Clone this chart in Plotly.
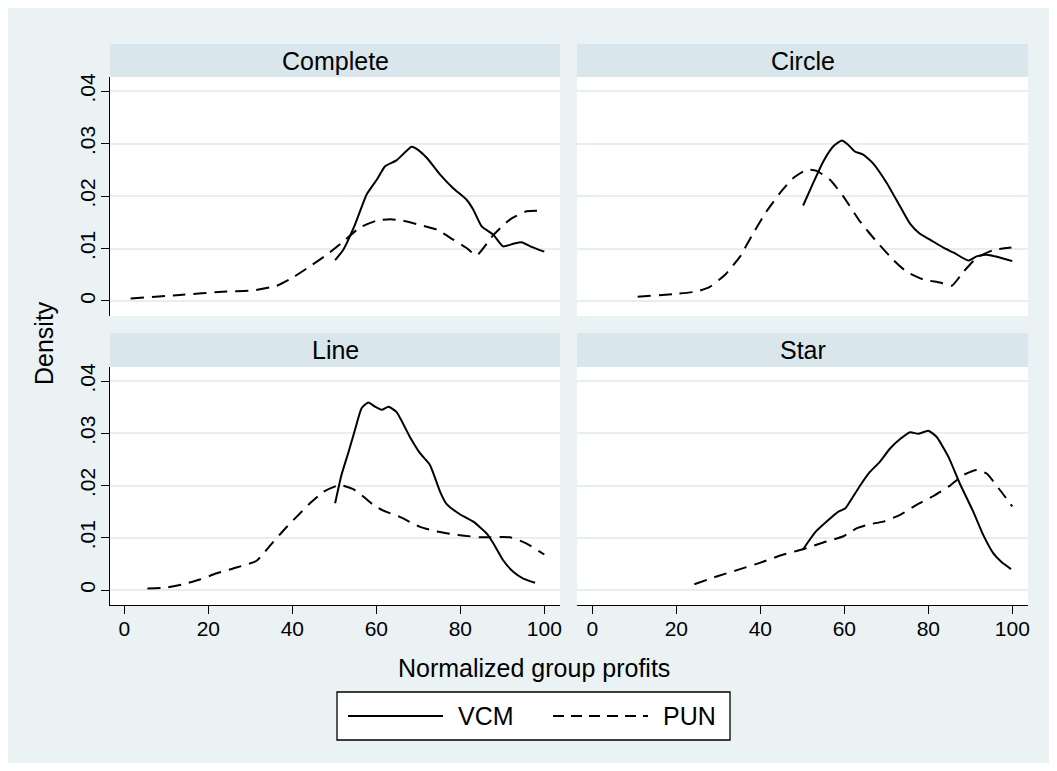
import plotly.graph_objects as go

# ---------------- data ----------------
panel_titles = ["Complete", "Circle", "Line", "Star"]
series_names = ["VCM", "PUN"]
x_tick_vals = [0, 20, 40, 60, 80, 100]
x_tick_text = ["0", "20", "40", "60", "80", "100"]
y_tick_vals = [0, 0.01, 0.02, 0.03, 0.04]
y_tick_text = ["0", ".01", ".02", ".03", ".04"]

complete_vcm_x = [50.2, 52.1, 54.9, 57.7, 60.1, 62.1, 64.8, 68.4, 69.6, 72.0, 75.2, 78.3, 81.5, 83.1, 85.1, 87.9, 90.2, 92.6, 94.6, 97.0, 98.9, 100]
complete_vcm_y = [0.0078, 0.0097, 0.0145, 0.0203, 0.0231, 0.0257, 0.0268, 0.0294, 0.0290, 0.0273, 0.0241, 0.0215, 0.0193, 0.0174, 0.0142, 0.0126, 0.0104, 0.0109, 0.0112, 0.0103, 0.0097, 0.0094]
complete_pun_x = [1.5, 12.5, 24.4, 30.7, 36.3, 40.2, 44.2, 48.2, 52.1, 56.1, 60.1, 63.3, 66.4, 70.4, 74.4, 78.3, 81.5, 83.9, 87.9, 91.8, 95.8, 98.9, 100]
complete_pun_y = [0.00045, 0.0011, 0.0018, 0.0020, 0.0029, 0.0045, 0.0066, 0.0088, 0.0113, 0.0140, 0.0153, 0.0156, 0.0153, 0.0145, 0.0136, 0.0117, 0.0101, 0.0087, 0.0126, 0.0155, 0.0171, 0.0172, 0.0169]

circle_vcm_x = [50.2, 52.6, 55.0, 57.4, 59.4, 60.9, 62.5, 64.5, 66.9, 70.1, 73.3, 75.6, 78.0, 80.4, 83.5, 86.3, 89.5, 91.5, 93.8, 97.0, 100]
circle_vcm_y = [0.0182, 0.0225, 0.0266, 0.0295, 0.0306, 0.0298, 0.0285, 0.0279, 0.0262, 0.0225, 0.0180, 0.0148, 0.0128, 0.0117, 0.0102, 0.0091, 0.0077, 0.0085, 0.0088, 0.0083, 0.0076]
circle_pun_x = [10.8, 19.3, 24.8, 28.0, 31.6, 35.2, 38.3, 41.5, 44.7, 47.8, 51.0, 53.4, 56.6, 59.8, 63.7, 67.7, 71.7, 74.8, 78.8, 82.8, 85.6, 88.3, 91.5, 95.5, 99.8]
circle_pun_y = [0.0008, 0.0013, 0.0018, 0.0027, 0.0050, 0.0085, 0.0129, 0.0171, 0.0206, 0.0234, 0.0250, 0.0248, 0.0231, 0.0199, 0.0152, 0.0113, 0.0078, 0.0056, 0.0041, 0.0035, 0.0029, 0.0055, 0.0082, 0.0097, 0.0102]

line_vcm_x = [50.2, 51.7, 53.3, 54.9, 56.5, 58.1, 59.7, 61.3, 62.9, 64.8, 68.0, 70.4, 72.8, 75.2, 76.7, 79.9, 83.1, 86.3, 87.9, 90.2, 92.6, 95.0, 97.8]
line_vcm_y = [0.0166, 0.0220, 0.0262, 0.0306, 0.0348, 0.0359, 0.0351, 0.0345, 0.0351, 0.0341, 0.0293, 0.0262, 0.0239, 0.0188, 0.0165, 0.0145, 0.0131, 0.0108, 0.0089, 0.0057, 0.0035, 0.0022, 0.0014]
line_pun_x = [5.5, 9.3, 14.0, 18.0, 22.0, 26.7, 31.5, 34.7, 37.9, 41.0, 44.2, 47.4, 51.3, 54.5, 56.9, 59.3, 61.7, 65.6, 70.4, 74.4, 79.9, 84.7, 91.8, 95.8, 99.0, 100]
line_pun_y = [0.0003, 0.0004, 0.0011, 0.0020, 0.0032, 0.0043, 0.0056, 0.0085, 0.0114, 0.0140, 0.0166, 0.0188, 0.0201, 0.0193, 0.0179, 0.0163, 0.0152, 0.0140, 0.0121, 0.0112, 0.0105, 0.0101, 0.0101, 0.0089, 0.0073, 0.0068]

star_vcm_x = [50.2, 53.0, 55.8, 58.6, 60.2, 62.1, 64.1, 66.1, 68.5, 70.9, 73.3, 75.7, 77.6, 80.0, 82.0, 84.8, 87.5, 90.7, 93.1, 95.5, 97.5, 99.7]
star_vcm_y = [0.0078, 0.0110, 0.0131, 0.0150, 0.0156, 0.0179, 0.0204, 0.0226, 0.0246, 0.0271, 0.0289, 0.0302, 0.0299, 0.0305, 0.0293, 0.0255, 0.0204, 0.0150, 0.0105, 0.0070, 0.0053, 0.0040]
star_pun_x = [24.3, 29.6, 35.2, 39.9, 45.5, 50.2, 55.0, 59.8, 62.9, 66.1, 69.3, 73.3, 77.2, 81.2, 85.2, 88.3, 91.5, 93.9, 97.1, 100]
star_pun_y = [0.0011, 0.0026, 0.0040, 0.0052, 0.0068, 0.0078, 0.0091, 0.0103, 0.0118, 0.0126, 0.0131, 0.0144, 0.0163, 0.0180, 0.0200, 0.0220, 0.0230, 0.0223, 0.0191, 0.0160]

# ---------------- styling / layout helpers ----------------
OFF = 8  # page body margin: screen pixel = figure pixel + 8
W, H = 1057 - OFF, 771 - 2 * OFF
FONT = "Liberation Sans, Arial, Helvetica, sans-serif"
BG = "#EAF2F3"
STRIP = "#D9E6EB"
GRID = "#E6EEF1"
SOLID = dict(color="black", width=2, shape="spline", smoothing=0.5)
DASHED = dict(color="black", width=2, dash="13px,8px", shape="spline", smoothing=0.5)
LEG_SOLID = dict(color="black", width=2)
LEG_DASHED = dict(color="black", width=2, dash="11px,7px")


def px_x(p):
    return (p - OFF) / W


def px_y(p):
    return 1 - (p - OFF) / H


panels = [
    dict(name=panel_titles[0], xb=(110, 560), yb=(77, 316), strip_top=44, left=True, bottom=False),
    dict(name=panel_titles[1], xb=(577, 1028), yb=(77, 316), strip_top=44, left=False, bottom=False),
    dict(name=panel_titles[2], xb=(110, 560), yb=(367, 605), strip_top=333, left=True, bottom=True),
    dict(name=panel_titles[3], xb=(577, 1028), yb=(367, 605), strip_top=333, left=False, bottom=True),
]
data = [
    (complete_vcm_x, complete_vcm_y, complete_pun_x, complete_pun_y),
    (circle_vcm_x, circle_vcm_y, circle_pun_x, circle_pun_y),
    (line_vcm_x, line_vcm_y, line_pun_x, line_pun_y),
    (star_vcm_x, star_vcm_y, star_pun_x, star_pun_y),
]

fig = go.Figure()
layout = dict(
    width=W, height=H,
    margin=dict(l=0, r=0, t=0, b=0, autoexpand=False),
    paper_bgcolor=BG,
    plot_bgcolor="white",
    showlegend=False,
    font=dict(family=FONT, color="black", size=21),
)
shapes = []
annotations = []

for i, (pn, (vx, vy, px_, py_)) in enumerate(zip(panels, data)):
    k = "" if i == 0 else str(i + 1)
    xa, ya = "x" + k, "y" + k
    fig.add_trace(go.Scatter(x=vx, y=vy, mode="lines", line=SOLID, name=series_names[0],
                             xaxis=xa, yaxis=ya, hoverinfo="skip"))
    fig.add_trace(go.Scatter(x=px_, y=py_, mode="lines", line=DASHED, name=series_names[1],
                             xaxis=xa, yaxis=ya, hoverinfo="skip"))
    x0, x1 = pn["xb"]
    t, b = pn["yb"]
    zero_off = 14.3 if pn["left"] else 15.3
    xr = [-zero_off / 4.2, (x1 - x0 - zero_off) / 4.2]
    layout["xaxis" + k] = dict(
        domain=[px_x(x0), px_x(x1)], range=xr, anchor=ya,
        tickvals=x_tick_vals, ticktext=x_tick_text,
        showticklabels=pn["bottom"], ticks="outside" if pn["bottom"] else "",
        ticklen=8, tickwidth=1.3, tickcolor="black",
        showline=pn["bottom"], linecolor="black", linewidth=1.3,
        showgrid=False, zeroline=False, ticklabelstandoff=-3,
        tickfont=dict(size=21, family=FONT, color="black"),
    )
    layout["yaxis" + k] = dict(
        domain=[px_y(b), px_y(t)], range=[-0.00287, 0.0427], anchor=xa,
        tickvals=y_tick_vals, ticktext=y_tick_text, tickangle=-90,
        showticklabels=pn["left"], ticks="outside" if pn["left"] else "",
        ticklen=8, tickwidth=1.3, tickcolor="black",
        showline=pn["left"], linecolor="black", linewidth=1.3,
        showgrid=True, gridcolor=GRID, gridwidth=1.5, zeroline=False,
        ticklabelstandoff=-3,
        tickfont=dict(size=21, family=FONT, color="black"),
    )
    shapes.append(dict(type="rect", xref="paper", yref="paper",
                       x0=px_x(x0), x1=px_x(x1), y0=px_y(t), y1=px_y(pn["strip_top"]),
                       fillcolor=STRIP, line=dict(width=0), layer="below"))
    annotations.append(dict(text=pn["name"], xref="paper", yref="paper",
                            x=px_x((x0 + x1) / 2), y=px_y((t + pn["strip_top"]) / 2),
                            showarrow=False, xanchor="center", yanchor="middle",
                            font=dict(size=25, family=FONT, color="black")))

annotations.append(dict(text="Density", xref="paper", yref="paper", x=px_x(44), y=px_y(343),
                        textangle=-90, showarrow=False, xanchor="center", yanchor="middle",
                        font=dict(size=25, family=FONT, color="black")))
annotations.append(dict(text="Normalized group profits", xref="paper", yref="paper",
                        x=px_x(534), y=px_y(668), showarrow=False, xanchor="center", yanchor="middle",
                        font=dict(size=25, family=FONT, color="black")))

# legend box
shapes.append(dict(type="rect", xref="paper", yref="paper", x0=px_x(337), x1=px_x(730),
                   y0=px_y(740), y1=px_y(692), fillcolor="white", line=dict(color="black", width=1.3)))
shapes.append(dict(type="line", xref="paper", yref="paper", x0=px_x(348), x1=px_x(443),
                   y0=px_y(716), y1=px_y(716), line=LEG_SOLID))
shapes.append(dict(type="line", xref="paper", yref="paper", x0=px_x(553), x1=px_x(648),
                   y0=px_y(716), y1=px_y(716), line=LEG_DASHED))
annotations.append(dict(text=series_names[0], xref="paper", yref="paper", x=px_x(456), y=px_y(716),
                        showarrow=False, xanchor="left", yanchor="middle",
                        font=dict(size=25, family=FONT, color="black")))
annotations.append(dict(text=series_names[1], xref="paper", yref="paper", x=px_x(661), y=px_y(716),
                        showarrow=False, xanchor="left", yanchor="middle",
                        font=dict(size=25, family=FONT, color="black")))

layout["shapes"] = shapes
layout["annotations"] = annotations
fig.update_layout(**layout)
fig.write_html("out.html")
